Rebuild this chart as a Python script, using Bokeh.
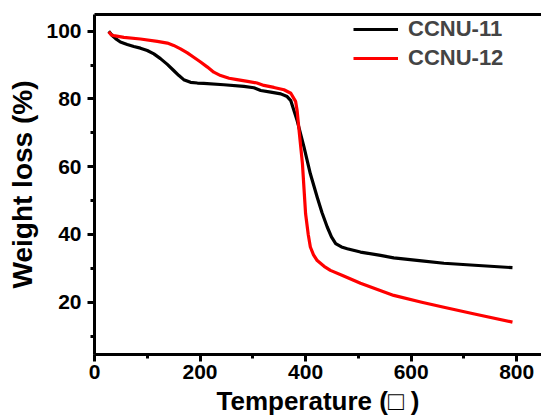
from bokeh.plotting import figure
from bokeh.models import (Range1d, LinearAxis, FixedTicker, Legend, LegendItem,
                          SingleIntervalTicker)
from bokeh.embed import file_html
from bokeh.resources import INLINE

# CCNU-11 (black)
t11 = [27, 33.5, 40, 49, 62, 74.5, 87, 100, 112.5, 125, 138, 150, 160, 169,
       182, 195, 207, 245, 283, 302, 315, 334, 353, 365, 372, 384, 397, 409,
       422, 431, 441, 449, 457, 468, 479, 504, 542, 567, 620, 662, 720, 792]
w11 = [100, 98.7, 97.8, 96.8, 96.1, 95.5, 95.0, 94.3, 93.3, 91.9, 90.2, 88.4,
       86.9, 85.7, 84.9, 84.7, 84.6, 84.2, 83.7, 83.3, 82.5, 82.0, 81.5, 80.7,
       79.5, 73.6, 65.8, 57.9, 51.0, 46.5, 42.2, 39.3, 37.3, 36.3, 35.8, 34.8,
       33.8, 33.1, 32.2, 31.5, 30.9, 30.2]

# CCNU-12 (red)
t12 = [27, 32, 36.6, 55.6, 87, 119, 138, 150, 163, 176, 188, 201, 214, 226,
       239, 255, 270, 290, 308, 321, 340, 359, 372, 381, 384, 387, 394, 400,
       405, 409, 415, 422, 435, 447, 470, 492, 504, 567, 620, 662, 720, 792]
w12 = [99.8, 98.9, 98.7, 98.2, 97.7, 97.0, 96.5, 95.8, 94.8, 93.6, 92.3, 90.9,
       89.4, 87.9, 86.9, 86.1, 85.7, 85.2, 84.7, 84.0, 83.4, 82.7, 81.7, 79.3,
       76.5, 71.7, 60.9, 46.1, 40.0, 36.3, 34.0, 32.3, 30.6, 29.4, 27.9, 26.4,
       25.6, 22.0, 20.0, 18.5, 16.5, 14.1]

FONT = "Liberation Sans"

p = figure(width=541, height=419, output_backend="svg", toolbar_location=None,
           x_range=Range1d(0, 847), y_range=Range1d(4.56, 104.93),
           min_border_left=94, min_border_right=0, min_border_top=14,
           min_border_bottom=65)
p.xgrid.visible = False
p.ygrid.visible = False
p.outline_line_color = None
p.background_fill_color = "white"
p.border_fill_color = "white"

r1 = p.line(t11, w11, line_color="black", line_width=3.2, line_join="round")
r2 = p.line(t12, w12, line_color="red", line_width=3.2, line_join="round")

p.xaxis.ticker = SingleIntervalTicker(interval=200, num_minor_ticks=2)
p.yaxis.ticker = SingleIntervalTicker(interval=20, num_minor_ticks=2)
p.xaxis.axis_label = "Temperature (\u25a1 )"
p.yaxis.axis_label = "Weight loss (%)"

for ax in (p.xaxis[0], p.yaxis[0]):
    ax.axis_line_width = 3
    ax.major_tick_line_width = 3
    ax.minor_tick_line_width = 3
    ax.major_tick_out = 7
    ax.major_tick_in = 0
    ax.minor_tick_out = 4
    ax.minor_tick_in = 0
    ax.major_label_text_font = FONT
    ax.major_label_text_font_style = "bold"
    ax.major_label_text_font_size = "21px"
    ax.major_label_text_color = "black"
    ax.axis_label_text_font = FONT
    ax.axis_label_text_font_style = "bold"
    ax.axis_label_text_color = "black"

p.yaxis.major_label_standoff = 6
p.yaxis.axis_label_text_font_size = "28px"
p.yaxis.axis_label_standoff = 5
p.xaxis.major_label_standoff = 3
p.xaxis.axis_label_text_font_size = "26px"
p.xaxis.axis_label_standoff = 4

top = LinearAxis(ticker=FixedTicker(ticks=[]), axis_line_width=3,
                 major_label_text_font_size="0px", major_tick_line_color=None,
                 minor_tick_line_color=None)
p.add_layout(top, "above")

legend = Legend(items=[LegendItem(label="CCNU-11", renderers=[r1]),
                       LegendItem(label="CCNU-12", renderers=[r2])],
                location=(259, 283), glyph_width=45, glyph_height=24,
                label_height=24, spacing=3, padding=0, margin=0,
                border_line_color=None, background_fill_alpha=0,
                label_text_font=FONT, label_text_font_style="bold",
                label_text_font_size="22px", label_standoff=10)
p.add_layout(legend)

open("out.html", "w").write(file_html(p, INLINE))
